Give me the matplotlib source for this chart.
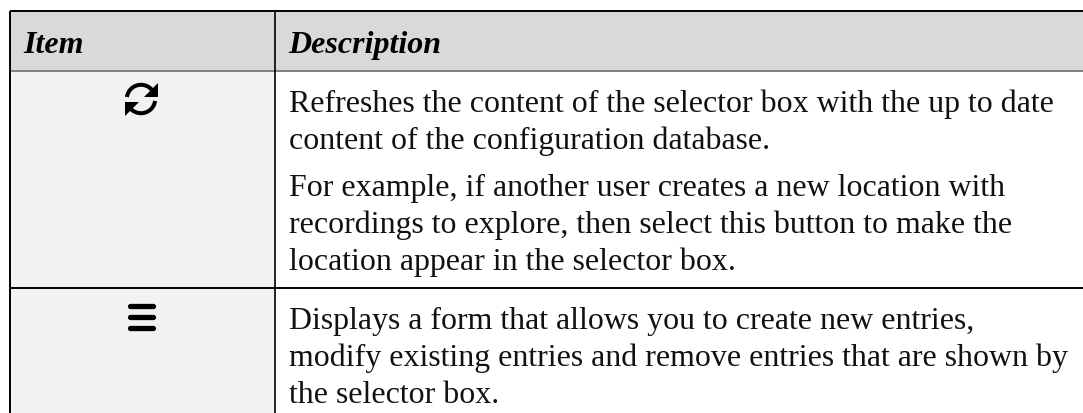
import numpy as np
import matplotlib
matplotlib.use('Agg')
import matplotlib.pyplot as plt
from matplotlib.patches import Rectangle, Polygon

WIDTH, HEIGHT = 1083, 414
DPI = 100

headers = ["Item", "Description"]
row1_lines = [
    "Refreshes the content of the selector box with the up to date",
    "content of the configuration database.",
]
row1_extra_lines = [
    "For example, if another user creates a new location with",
    "recordings to explore, then select this button to make the",
    "location appear in the selector box.",
]
row2_lines = [
    "Displays a form that allows you to create new entries,",
    "modify existing entries and remove entries that are shown by",
    "the selector box.",
]

LEFT, MID, TOP, HEAD_BOTTOM, ROW_DIV = 10.3, 275.2, 12.2, 71.7, 289
TEXT_X = 289
FONT_SIZE = 22.95
LINE_GAP = 36.9

plt.rcParams['font.family'] = ['Liberation Serif', 'DejaVu Serif']

fig = plt.figure(figsize=(WIDTH / DPI, HEIGHT / DPI), dpi=DPI, facecolor='white')
ax = fig.add_axes([0, 0, 1, 1])
ax.set_xlim(0, WIDTH)
ax.set_ylim(HEIGHT, 0)
ax.axis('off')

# cell backgrounds
ax.add_patch(Rectangle((LEFT, TOP), WIDTH - LEFT, HEAD_BOTTOM - TOP, fc='#d9d9d9', ec='none'))
ax.add_patch(Rectangle((LEFT, HEAD_BOTTOM), MID - LEFT, HEIGHT - HEAD_BOTTOM, fc='#f2f2f2', ec='none'))

# grid lines
ax.plot([LEFT, WIDTH], [TOP, TOP], color='black', lw=1.4, solid_capstyle='butt')
ax.plot([LEFT, WIDTH], [HEAD_BOTTOM, HEAD_BOTTOM], color='#808080', lw=1.4, solid_capstyle='butt')
ax.plot([LEFT, WIDTH], [ROW_DIV, ROW_DIV], color='black', lw=1.4, solid_capstyle='butt')
ax.plot([LEFT, LEFT], [TOP, HEIGHT], color='black', lw=1.4, solid_capstyle='butt')
ax.plot([MID, MID], [TOP, HEIGHT], color='black', lw=1.2, solid_capstyle='butt')

# header text
ax.text(23, 53, headers[0], fontsize=23, style='italic', weight='bold', va='baseline')
ax.text(288, 53, headers[1], fontsize=23, style='italic', weight='bold', va='baseline')


def draw_lines(lines, y0):
    for i, line in enumerate(lines):
        ax.text(TEXT_X, y0 + i * LINE_GAP, line, fontsize=FONT_SIZE, color='#111111', va='baseline')


draw_lines(row1_lines, 112.5)
draw_lines(row1_extra_lines, 196)
draw_lines(row2_lines, 329)

# refresh icon
cx, cy, r = 141, 100, 14.2
t = np.radians(np.linspace(188, 322, 40))
ax.plot(cx + r * np.cos(t), cy + r * np.sin(t), color='black', lw=2.9, solid_capstyle='butt')
t = np.radians(np.linspace(8, 142, 40))
ax.plot(cx + r * np.cos(t), cy + r * np.sin(t), color='black', lw=2.9, solid_capstyle='butt')
ax.add_patch(Polygon([[157.5, 84], [157.5, 98], [143.5, 98]], fc='black', ec='none'))
ax.add_patch(Polygon([[125, 116.5], [125, 102.5], [139, 102.5]], fc='black', ec='none'))

# menu icon
for y in (307, 318, 329):
    ax.plot([129.7, 153.3], [y, y], color='black', lw=3.8, solid_capstyle='round')

fig.savefig('out.png', dpi=DPI)
